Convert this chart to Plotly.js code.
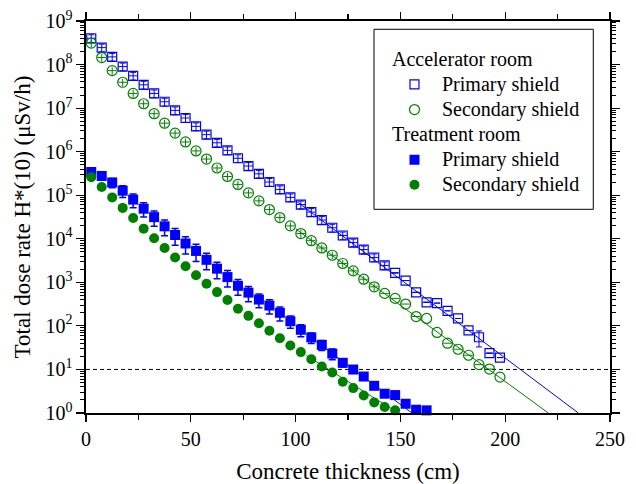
<!DOCTYPE html>
<html>
<head>
<meta charset="utf-8">
<script src="https://cdn.plot.ly/plotly-3.0.1.min.js"></script>
<style>html,body{margin:0;padding:0;background:#fff;}#chart{width:636px;height:484px;}</style>
</head>
<body>
<div id="chart"></div>
<script>
// ---- data ----
var accPrimaryX = [2.5,7.5,12.5,17.5,22.5,27.5,32.5,37.5,42.5,47.5,52.5,57.5,62.5,67.5,72.5,77.5,82.5,87.5,92.5,97.5,
  102.5,107.5,112.5,117.5,122.5,127.5,132.5,137.5,142.5,147.5,152.5,157.5,162.5,167.5,172.5,177.5,182.5,187.5,192.5,197.5];
var accPrimaryY = [4.02e8,2.45e8,1.50e8,9.0e7,5.51e7,3.43e7,2.17e7,1.40e7,8.85e6,5.93e6,
  3.81e6,2.46e6,1.60e6,1.07e6,7.06e5,4.68e5,3.10e5,2.01e5,1.36e5,8.91e4,
  6.10e4,4.10e4,2.69e4,1.79e4,1.19e4,8180,5660,3720,2440,1650,
  1100,588,348,334,222,148,78.5,54.8,23.6,18.7];
var accPrimaryRelErr = [0.2,0.2,0.2,0.2,0.2,0.2,0.2,0.2,0.2,0.2,0.2,0.2,0.2,0.2,0.2,0.2,0.2,0.2,0.2,0.2,
  0.2,0.2,0.2,0.2,0.2,0.2,0.2,0.2,0.2,0,0,0,0,0,0,0,0,0.4,0,0];
var accPrimaryXErr = [2,2,2,2,2,2,2,2,2,2,2,2,2,2,2,2,2,2,2,2,2,2,2,2,2,2,2,2,2,2,2,2,2,0,0,0,2,0,2,0];

var accSecondaryX = accPrimaryX.slice();
var accSecondaryY = [3.10e8,1.45e8,7.25e7,3.92e7,2.17e7,1.26e7,7.45e6,4.51e6,2.67e6,1.67e6,
  1.04e6,6.77e5,4.22e5,2.69e5,1.77e5,1.13e5,7.41e4,4.68e4,3.07e4,1.98e4,
  1.32e4,9050,6150,4190,2710,1830,1180,789,557,428,
  317,164,148,70.6,40.0,29.1,21.2,12.9,10.2,6.67];
var accSecondaryRelErr = [0.2,0.2,0.2,0.2,0.2,0.2,0.2,0.2,0.2,0.2,0.2,0.2,0.2,0.2,0.2,0.2,0.2,0.2,0.2,0.2,
  0.2,0.2,0.2,0.2,0.2,0.2,0.2,0.2,0,0,0,0,0,0,0,0,0,0,0,0];
var accSecondaryXErr = [2,2,2,2,2,2,2,2,2,2,2,2,2,2,2,2,2,2,2,2,2,2,2,2,2,2,2,2,2,2,2,2,0,0,2,2,2,2,2,0];

var trtPrimaryX = [2.5,7.5,12.5,17.5,22.5,27.5,32.5,37.5,42.5,47.5,52.5,57.5,62.5,67.5,72.5,77.5,82.5,87.5,92.5,97.5,
  102.5,107.5,112.5,117.5,122.5,127.5,132.5,137.5,142.5,147.5,152.5,157.5,162.5];
var trtPrimaryY = [3.41e5,2.77e5,1.96e5,1.27e5,7.93e4,4.91e4,3.14e4,1.93e4,1.22e4,7800,
  5260,3290,2060,1320,832,581,402,293,200,128,
  81.4,54.3,36.6,23.1,14.2,9.95,6.88,4.21,2.77,2.58,
  1.63,1.19,1.15];
var trtPrimaryRelErr = [0.2,0.2,0.24,0.3,0.35,0.36,0.38,0.39,0.42,0.43,
  0.43,0.41,0.41,0.41,0.39,0.38,0.35,0.36,0.35,0.31,
  0.31,0.27,0.26,0.28,0.2,0.18,0.15,0.15,0.12,0.12,0.1,0.1,0.1];

var trtSecondaryX = [2.5,7.5,12.5,17.5,22.5,27.5,32.5,37.5,42.5,47.5,52.5,57.5,62.5,67.5,72.5,77.5,82.5,87.5,92.5,97.5,
  102.5,107.5,112.5,117.5,122.5,127.5,132.5,137.5,142.5,147.5];
var trtSecondaryY = [2.60e5,1.55e5,8.91e4,5.12e4,2.99e4,1.71e4,1.03e4,6150,3720,2350,
  1450,924,597,392,248,170,115,77.6,52.0,35.6,
  25.0,17.2,11.7,8.49,5.20,3.73,2.53,1.75,1.37,1.15];

// fitted exponential lines (end points)
var fitAccPrimaryX = [100, 234.9], fitAccPrimaryY = [7.5e4, 1];
var fitAccSecondaryX = [100, 220.6], fitAccSecondaryY = [1.69e4, 1];
var fitTrtPrimaryX = [110, 155.5], fitTrtPrimaryY = [43, 1];
var fitTrtSecondaryX = [105, 149], fitTrtSecondaryY = [21, 1];

var limitX = [0, 250], limitY = [10, 10];

var yTickVals = [1,10,100,1e3,1e4,1e5,1e6,1e7,1e8,1e9];
var yTickText = ['10<sup>0</sup>','10<sup>1</sup>','10<sup>2</sup>','10<sup>3</sup>','10<sup>4</sup>',
  '10<sup>5</sup>','10<sup>6</sup>','10<sup>7</sup>','10<sup>8</sup>','10<sup>9</sup>'];

var groupTitles = ['Accelerator room', 'Treatment room'];
var seriesNames = ['Primary shield', 'Secondary shield'];

// ---- drawing ----
var BLUE = '#0000ff', GREEN = '#008000';
function big(t){ return '<span style="font-size:20px">' + t + '</span>'; }
function mul(v, r){ return v.map(function(a,i){ return a*r[i]; }); }
function lineTrace(x, y, c){
  return {x:x, y:y, mode:'lines', line:{color:c, width:1}, showlegend:false, hoverinfo:'skip'};
}
var traces = [
  lineTrace(fitAccPrimaryX, fitAccPrimaryY, BLUE),
  lineTrace(fitAccSecondaryX, fitAccSecondaryY, GREEN),
  lineTrace(fitTrtPrimaryX, fitTrtPrimaryY, BLUE),
  lineTrace(fitTrtSecondaryX, fitTrtSecondaryY, GREEN),
  {x:limitX, y:limitY, mode:'lines', line:{color:'black', width:1, dash:'4px,3px'}, showlegend:false, hoverinfo:'skip'},
  {x:accPrimaryX, y:accPrimaryY, mode:'markers', name:big(seriesNames[0]), cliponaxis:false,
   legendgroup:'acc', legendgrouptitle:{text:big(groupTitles[0])},
   marker:{symbol:'square-open', size:9, color:BLUE, line:{width:1.2, color:BLUE}},
   error_y:{type:'data', array:mul(accPrimaryY, accPrimaryRelErr), color:BLUE, thickness:1, width:3},
   error_x:{type:'data', array:accPrimaryXErr, color:BLUE, thickness:1, width:0}},
  {x:accSecondaryX, y:accSecondaryY, mode:'markers', name:big(seriesNames[1]), cliponaxis:false,
   legendgroup:'acc',
   marker:{symbol:'circle-open', size:10, color:GREEN, line:{width:1.2, color:GREEN}},
   error_y:{type:'data', array:mul(accSecondaryY, accSecondaryRelErr), color:GREEN, thickness:1, width:0},
   error_x:{type:'data', array:accSecondaryXErr, color:GREEN, thickness:1, width:0}},
  {x:trtPrimaryX, y:trtPrimaryY, mode:'markers', name:big(seriesNames[0]), cliponaxis:false,
   legendgroup:'trt', legendgrouptitle:{text:big(groupTitles[1])},
   marker:{symbol:'square', size:10, color:BLUE},
   error_y:{type:'data', array:mul(trtPrimaryY, trtPrimaryRelErr), color:BLUE, thickness:1.5, width:3.5}},
  {x:trtSecondaryX, y:trtSecondaryY, mode:'markers', name:big(seriesNames[1]), cliponaxis:false,
   legendgroup:'trt',
   marker:{symbol:'circle', size:10, color:GREEN}}
];

var axisCommon = {showline:true, linecolor:'black', linewidth:1.6, mirror:'allticks',
  ticks:'outside', tickcolor:'black', tickwidth:1.2, showgrid:false, zeroline:false,
  tickfont:{size:20, color:'black', family:'Liberation Serif'}};

var layout = {
  width:636, height:484,
  margin:{l:86, r:26, t:21, b:71},
  paper_bgcolor:'white', plot_bgcolor:'white',
  font:{family:'Liberation Serif', color:'black', size:20},
  showlegend:true,
  legend:{x:0.5744, y:0.947, xanchor:'left', yanchor:'top', bgcolor:'rgba(0,0,0,0)',
    borderwidth:0, font:{size:17, family:'Liberation Serif', color:'black'},
    grouptitlefont:{size:17, family:'Liberation Serif', color:'black'},
    tracegroupgap:0, itemwidth:45},
  shapes:[{type:'rect', xref:'paper', yref:'paper', x0:0.5496, x1:0.9681, y0:0.5196, y1:0.9789,
    line:{color:'black', width:1}, fillcolor:'rgba(0,0,0,0)', layer:'above'}],
  xaxis:Object.assign({}, axisCommon, {range:[0,250], dtick:50, tick0:0, ticklen:7,
    minor:{dtick:25, ticklen:5, ticks:'outside', tickcolor:'black', tickwidth:1.2, showgrid:false},
    title:{text:'Concrete thickness (cm)', font:{size:23, family:'Liberation Serif', color:'black'}, standoff:14}}),
  yaxis:Object.assign({}, axisCommon, {type:'log', range:[0,9], tickmode:'array', tickvals:yTickVals, ticktext:yTickText, ticklen:8,
    minor:{dtick:'D1', ticklen:4, ticks:'outside', tickcolor:'black', tickwidth:1, showgrid:false},
    title:{text:'Total dose rate H*(10) (μSv/h)', font:{size:23, family:'Liberation Serif', color:'black'}, standoff:8}})
};

Plotly.newPlot('chart', traces, layout, {displayModeBar:false, staticPlot:true});
</script>
</body>
</html>
